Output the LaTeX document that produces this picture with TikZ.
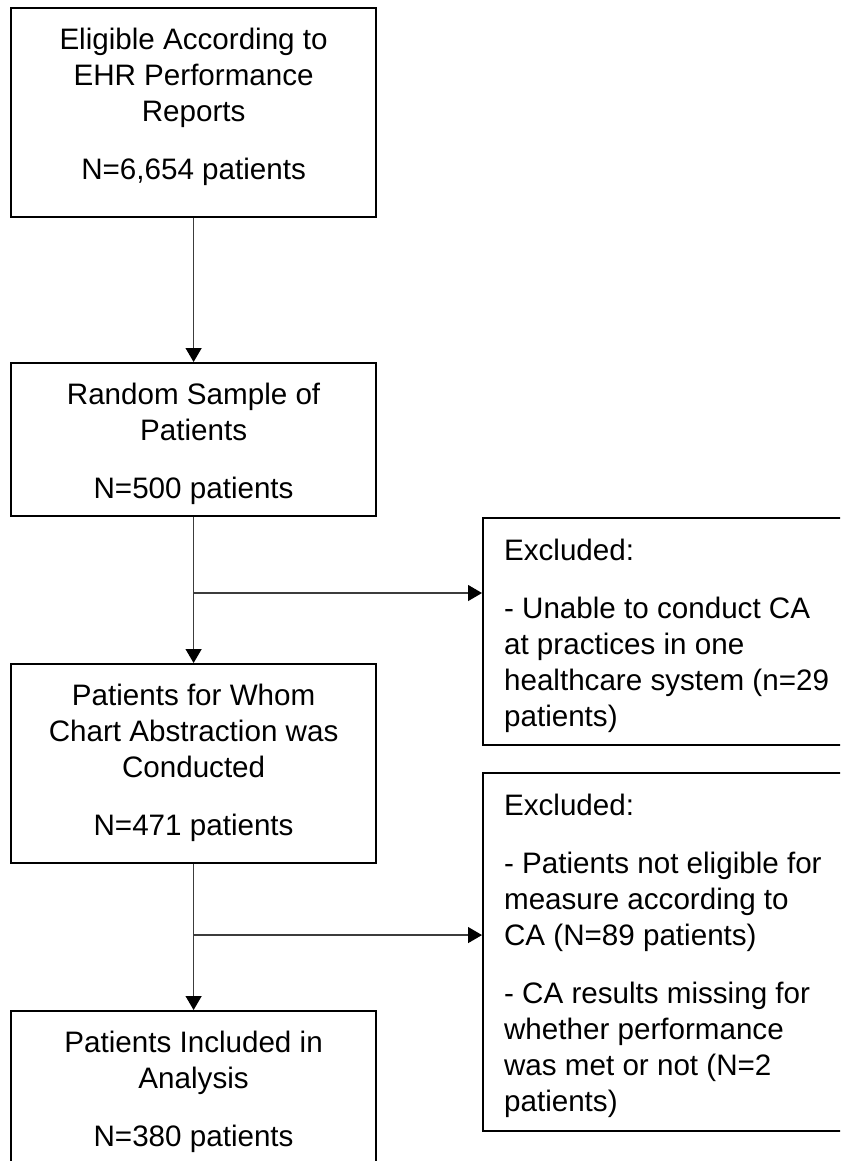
\documentclass[tikz,border=0pt]{standalone}
\usepackage{fontspec}
\setmainfont{Liberation Sans}
\usepackage{tikz}
\usetikzlibrary{arrows.meta}
\definecolor{edge}{RGB}{0, 0, 0}
\definecolor{link}{RGB}{60, 60, 60}
\newcommand*{\gap}{11pt}
\newcommand*{\midtext}[2]{\parbox[t][#1][t]{182.5pt}{\vspace*{10pt}\centering #2}}
\newcommand*{\sidetext}[2]{\parbox[t][#1][t]{175pt}{\vspace*{10.5pt}\raggedright #2}}

\begin{document}
\begin{tikzpicture}[
   x=0.5pt, y=-0.5pt,
   stagebox/.style={rectangle, draw=edge, line width=1.1, anchor=north west,
                    inner sep=0, font=\fontsize{14.8}{18}\selectfont},
   exclbox/.style={stagebox, inner xsep=10.5pt, inner ysep=0},
   flow/.style={draw=link, line width=0.6,
                -{Triangle[length=7pt, width=8pt, color=edge]}}
  ]

  % Page
  \fill[white] (0, 0) rectangle (840, 1161);
  \clip (0, 0) rectangle (840, 1161);

  % Main column
  \node (elig) at (10, 7) [stagebox]
    { \midtext{104.5pt}{Eligible According to\\EHR Performance\\Reports\\[\gap]N=6,654 patients} };
  \node (sample) at (10, 362) [stagebox]
    { \midtext{76.5pt}{Random Sample of\\Patients\\[\gap]N=500 patients} };
  \node (chart) at (10, 663) [stagebox]
    { \midtext{99.5pt}{Patients for Whom\\Chart Abstraction was\\Conducted\\[\gap]N=471 patients} };
  \node (incl) at (10, 1010) [stagebox]
    { \midtext{100pt}{Patients Included in\\Analysis\\[\gap]N=380 patients} };

  % Exclusions
  \node (excl1) at (482, 517) [exclbox]
    { \sidetext{113.5pt}{Excluded:\\[\gap]- Unable to conduct CA\\at practices in one\\healthcare system (n=29\\patients)} };
  \node (excl2) at (482, 772) [exclbox]
    { \sidetext{179pt}{Excluded:\\[\gap]- Patients not eligible for\\measure according to\\CA (N=89 patients)\\[\gap]- CA results missing for\\whether performance\\was met or not (N=2\\patients)} };

  % Connectors
  \path (sample.south) -- (chart.north) coordinate[pos=0.52] (fork1);
  \path (chart.south) -- (incl.north) coordinate[pos=0.486] (fork2);

  \foreach \B/\E in {elig/sample, sample/chart, chart/incl} {
    \draw[flow] (\B.south) -- (\E.north);
  }
  \foreach \F/\E in {fork1/excl1, fork2/excl2} {
    \draw[flow] (\F) -- (\E.west |- \F);
  }

\end{tikzpicture}
\end{document}
